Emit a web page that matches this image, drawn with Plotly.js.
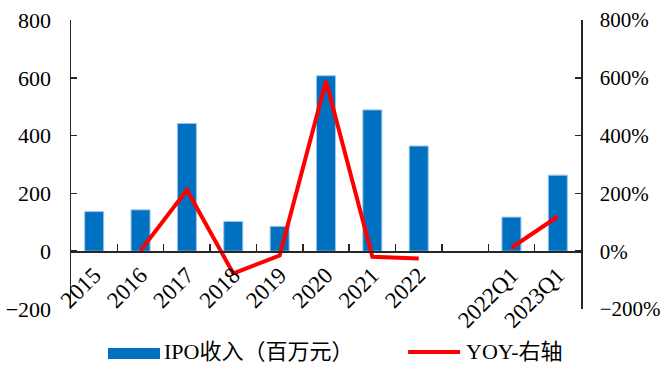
<!DOCTYPE html>
<html>
<head>
<meta charset="utf-8">
<script src="https://cdn.plot.ly/plotly-3.0.1.min.js"></script>
<style>html,body{margin:0;padding:0;background:#fff;}#chart{width:664px;height:369px;}</style>
</head>
<body>
<div id="chart"></div>
<script>
const categories = ["2015","2016","2017","2018","2019","2020","2021","2022"," ","2022Q1","2023Q1"];
const ipoRevenue = [137, 143, 442, 103, 86, 607, 489, 364, null, 118, 263];
const yoy = [null, 2, 212, -77, -15, 589, -19, -25, null, 12, 120];
const barName = "IPO收入（百万元）";
const lineName = "YOY-右轴";

const FONT = "'Liberation Serif', 'Times New Roman', 'Noto Sans CJK SC', serif";
const AX = "#262626";

const traces = [
  {
    type: "bar", x: categories, y: ipoRevenue, name: barName,
    marker: {color: "#0070C0", line: {color: "#9DC3E6", width: 1}},
    width: 0.41, yaxis: "y", showlegend: false, hoverinfo: "x+y"
  },
  {
    type: "scatter", mode: "lines", x: categories, y: yoy, name: lineName,
    line: {color: "#FF0000", width: 4}, connectgaps: false,
    yaxis: "y2", showlegend: false
  }
];

const layout = {
  width: 664, height: 369,
  margin: {l: 71, r: 83, t: 19.5, b: 60, pad: 0},
  paper_bgcolor: "#fff", plot_bgcolor: "#fff",
  font: {family: FONT, size: 22, color: "#000"},
  bargap: 0.59,
  xaxis: {
    type: "category", anchor: "free", position: 0.2,
    showline: true, linecolor: AX, linewidth: 1.5,
    ticks: "inside", tickson: "boundaries", ticklen: 7, tickcolor: AX, tickwidth: 1.5,
    tickangle: -45, showgrid: false, zeroline: false,
    tickfont: {family: FONT, size: 23, color: "#000"},
    range: [-0.5, 10.5]
  },
  yaxis: {
    range: [-200, 800], dtick: 200, tick0: 0,
    showline: true, linecolor: AX, linewidth: 1.5,
    ticks: "inside", ticklen: 6, tickcolor: AX, tickwidth: 1.5,
    showgrid: false, zeroline: false,
    ticklabelstandoff: 14,
    tickfont: {family: FONT, size: 22, color: "#000"}
  },
  yaxis2: {
    overlaying: "y", side: "right",
    range: [-200, 800], dtick: 200, tick0: 0, ticksuffix: "%",
    showline: true, linecolor: AX, linewidth: 1.5,
    ticks: "inside", ticklen: 6, tickcolor: AX, tickwidth: 1.5,
    showgrid: false, zeroline: false,
    ticklabelstandoff: 13,
    tickfont: {family: FONT, size: 21, color: "#000"}
  },
  shapes: [
    {type: "rect", xref: "paper", yref: "paper", x0: 0.0725, x1: 0.1745, y0: -0.1727, y1: -0.1347,
     fillcolor: "#0070C0", line: {width: 0}},
    {type: "line", xref: "paper", yref: "paper", x0: 0.661, x1: 0.763, y0: -0.1485, y1: -0.1485,
     line: {color: "#FF0000", width: 4}}
  ],
  annotations: [
    {xref: "paper", yref: "paper", x: 0.178, y: -0.1485, xanchor: "left", yanchor: "middle",
     text: barName, showarrow: false, font: {family: FONT, size: 22, color: "#000"}},
    {xref: "paper", yref: "paper", x: 0.77, y: -0.1485, xanchor: "left", yanchor: "middle",
     text: lineName, showarrow: false, font: {family: FONT, size: 22, color: "#000"}}
  ]
};

Plotly.newPlot("chart", traces, layout, {displayModeBar: false, staticPlot: true});
</script>
</body>
</html>
